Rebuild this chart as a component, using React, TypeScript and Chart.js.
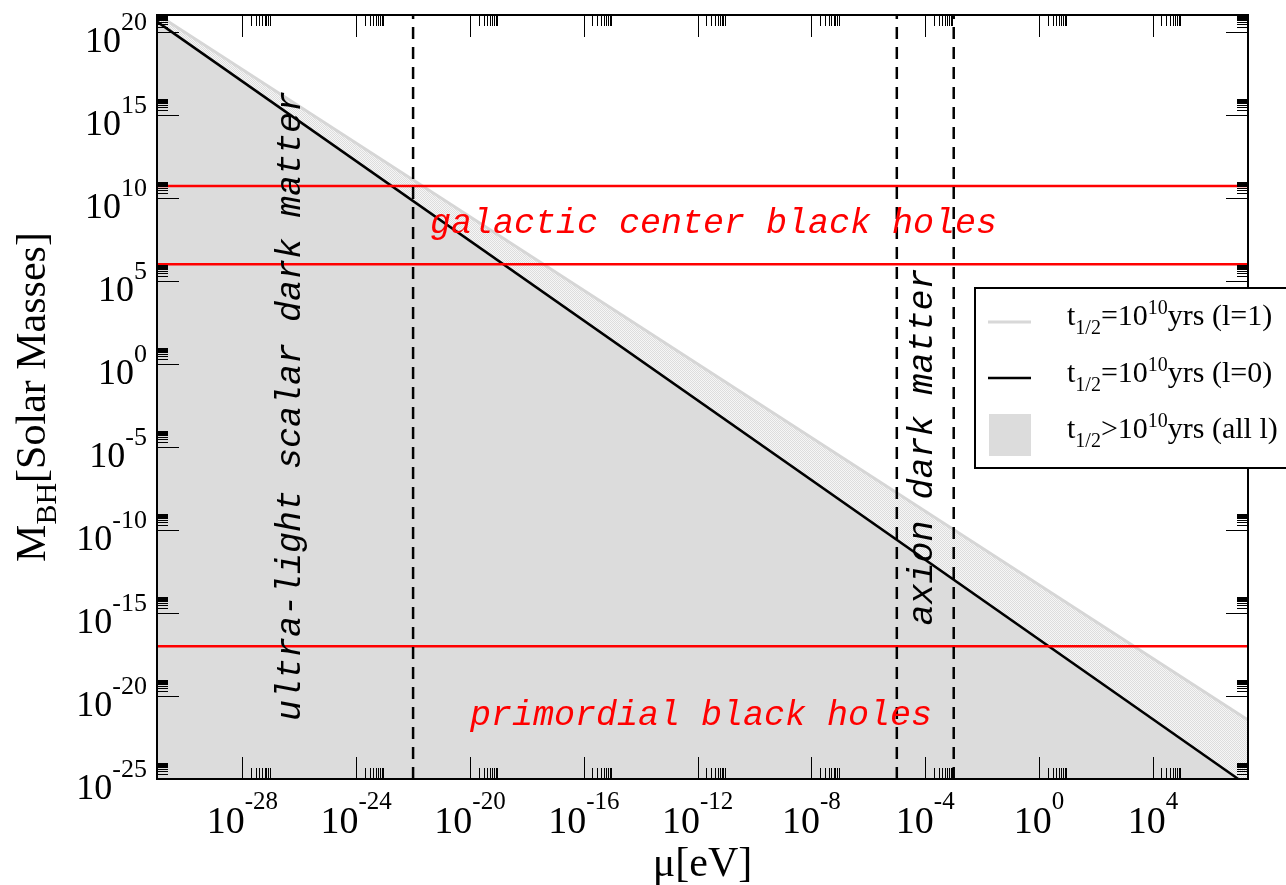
import React, { useEffect, useRef } from 'react';
import { Chart, registerables } from 'chart.js';

Chart.register(...registerables);

// ---- axis ranges ----
const X_MIN = 1e-31;
const X_MAX = 2.2e7;
const Y_MIN = 1e-25;
const Y_MAX = 1e21;

// ---- series ----
const l1Mu = [1e-31, 2.2e7];
const l1Mass = [1.1e21, 3.6e-22];
const l0Mu = [1e-31, 1e7];
const l0Mass = [4e20, 1e-25];
const redMassLevels = [5e10, 1e6, 1e-17];
const dashedMuLevels = [1e-22, 1e-5, 1e-3];

// ---- ticks ----
const xMajorExps = [-28, -24, -20, -16, -12, -8, -4, 0, 4];
const yMajorExps = [-25, -20, -15, -10, -5, 0, 5, 10, 15, 20];
const minorMultipliers = [2, 3, 4, 5, 6, 7, 8, 9];

// ---- texts ----
const legendEntries = [
  { rel: '=', tail: 'yrs (l=1)' },
  { rel: '=', tail: 'yrs (l=0)' },
  { rel: '>', tail: 'yrs (all l)' },
];
const annUltra = 'ultra-light scalar dark matter';
const annAxion = 'axion dark matter';
const annGalactic = 'galactic center black holes';
const annPrimordial = 'primordial black holes';

const SERIF = '"Liberation Serif", "Times New Roman", serif';
const MONO = '"Liberation Mono", "Courier New", monospace';

type Seg = { t: string; f: string; dy?: number };

function drawRich(ctx: CanvasRenderingContext2D, segs: Seg[], x: number, y: number, align: 'left' | 'center' | 'right') {
  let total = 0;
  for (const s of segs) {
    ctx.font = s.f;
    total += ctx.measureText(s.t).width;
  }
  let cur = align === 'center' ? x - total / 2 : align === 'right' ? x - total : x;
  ctx.textAlign = 'left';
  for (const s of segs) {
    ctx.font = s.f;
    ctx.fillText(s.t, cur, y + (s.dy || 0));
    cur += ctx.measureText(s.t).width;
  }
}

const decorPlugin = {
  id: 'decor',
  afterDatasetsDraw(chart: any) {
    const ctx: CanvasRenderingContext2D = chart.ctx;
    ctx.save();
    ctx.textBaseline = 'alphabetic';
    ctx.fillStyle = '#000';
    ctx.font = `italic 35px ${MONO}`;
    ctx.textAlign = 'center';
    ctx.save();
    ctx.translate(300, 406);
    ctx.rotate(-Math.PI / 2);
    ctx.fillText(annUltra, 0, 0);
    ctx.restore();
    ctx.save();
    ctx.translate(932, 447);
    ctx.rotate(-Math.PI / 2);
    ctx.fillText(annAxion, 0, 0);
    ctx.restore();
    ctx.fillStyle = '#ff0000';
    ctx.textAlign = 'left';
    ctx.fillText(annGalactic, 430, 233);
    ctx.fillText(annPrimordial, 470, 725);
    ctx.restore();
  },
  afterDraw(chart: any) {
    const ctx: CanvasRenderingContext2D = chart.ctx;
    const a = chart.chartArea;
    const xs = chart.scales.x;
    const ys = chart.scales.y;
    ctx.save();
    ctx.strokeStyle = '#000';
    ctx.fillStyle = '#000';
    ctx.lineWidth = 1;
    const MAJ = 22;
    const MIN = 11;
    ctx.beginPath();
    for (const e of xMajorExps) {
      const px = Math.round(xs.getPixelForValue(Math.pow(10, e))) + 0.5;
      ctx.moveTo(px, a.bottom); ctx.lineTo(px, a.bottom - MAJ);
      ctx.moveTo(px, a.top); ctx.lineTo(px, a.top + MAJ);
      for (const m of minorMultipliers) {
        const pm = Math.round(xs.getPixelForValue(m * Math.pow(10, e))) + 0.5;
        ctx.moveTo(pm, a.bottom); ctx.lineTo(pm, a.bottom - MIN);
        ctx.moveTo(pm, a.top); ctx.lineTo(pm, a.top + MIN);
      }
    }
    for (const e of yMajorExps) {
      const py = Math.round(ys.getPixelForValue(Math.pow(10, e))) + 0.5;
      ctx.moveTo(a.left, py); ctx.lineTo(a.left + MAJ, py);
      ctx.moveTo(a.right, py); ctx.lineTo(a.right - MAJ, py);
      for (const m of minorMultipliers) {
        const pm = Math.round(ys.getPixelForValue(m * Math.pow(10, e))) + 0.5;
        ctx.moveTo(a.left, pm); ctx.lineTo(a.left + MIN, pm);
        ctx.moveTo(a.right, pm); ctx.lineTo(a.right - MIN, pm);
      }
    }
    ctx.stroke();
    ctx.lineWidth = 2;
    ctx.strokeRect(a.left, a.top, a.right - a.left, a.bottom - a.top);

    ctx.textBaseline = 'alphabetic';
    for (const e of xMajorExps) {
      const px = xs.getPixelForValue(Math.pow(10, e));
      drawRich(ctx, [
        { t: '10', f: `38px ${SERIF}` },
        { t: String(e), f: `25px ${SERIF}`, dy: -24 },
      ], px, a.bottom + 54, 'center');
    }
    for (const e of yMajorExps) {
      const py = ys.getPixelForValue(Math.pow(10, e));
      drawRich(ctx, [
        { t: '10', f: `36px ${SERIF}` },
        { t: String(e), f: `26px ${SERIF}`, dy: -22 },
      ], 147, py + 20, 'right');
    }
    drawRich(ctx, [{ t: 'μ[eV]', f: `42px ${SERIF}` }], (a.left + a.right) / 2, 876, 'center');
    ctx.save();
    ctx.translate(45, (a.top + a.bottom) / 2);
    ctx.rotate(-Math.PI / 2);
    drawRich(ctx, [
      { t: 'M', f: `42px ${SERIF}` },
      { t: 'BH', f: `30px ${SERIF}`, dy: 11 },
      { t: '[Solar Masses]', f: `42px ${SERIF}` },
    ], 0, 0, 'center');
    ctx.restore();

    // legend
    const lx = 975, ly = 288, lw = 320, lh = 180;
    ctx.fillStyle = '#fff';
    ctx.fillRect(lx, ly, lw, lh);
    ctx.lineWidth = 2;
    ctx.strokeStyle = '#000';
    ctx.strokeRect(lx, ly, lw, lh);
    ctx.lineWidth = 3;
    ctx.strokeStyle = '#d8d8d8';
    ctx.beginPath(); ctx.moveTo(988, 322); ctx.lineTo(1031, 322); ctx.stroke();
    ctx.lineWidth = 2.5;
    ctx.strokeStyle = '#000';
    ctx.beginPath(); ctx.moveTo(988, 378); ctx.lineTo(1031, 378); ctx.stroke();
    ctx.fillStyle = '#dcdcdc';
    ctx.fillRect(989, 414, 42, 42);
    ctx.fillStyle = '#000';
    const baselines = [325, 382, 438];
    legendEntries.forEach((en, i) => {
      drawRich(ctx, [
        { t: 't', f: `30px ${SERIF}` },
        { t: '1/2', f: `20px ${SERIF}`, dy: 9 },
        { t: en.rel + '10', f: `30px ${SERIF}` },
        { t: '10', f: `20px ${SERIF}`, dy: -11 },
        { t: en.tail, f: `30px ${SERIF}` },
      ], 1067, baselines[i], 'left');
    });
    ctx.restore();
  },
};

export default function App() {
  const ref = useRef<HTMLCanvasElement | null>(null);
  useEffect(() => {
    const canvas = ref.current;
    if (!canvas) return;
    const pc = document.createElement('canvas');
    pc.width = 2; pc.height = 2;
    const pctx = pc.getContext('2d')!;
    pctx.fillStyle = '#f6f6f6';
    pctx.fillRect(0, 0, 2, 2);
    pctx.fillStyle = '#dddddd';
    pctx.fillRect(0, 0, 1, 1);
    pctx.fillRect(1, 1, 1, 1);
    const pattern = canvas.getContext('2d')!.createPattern(pc, 'repeat');

    const datasets: any[] = [
      {
        label: 't1/2=10^10yrs (l=1)',
        data: l1Mu.map((x, i) => ({ x, y: l1Mass[i] })),
        borderColor: '#d6d6d6', borderWidth: 3, fill: 'start', backgroundColor: pattern,
        pointRadius: 0, order: 10,
      },
      {
        label: 't1/2=10^10yrs (l=0)',
        data: l0Mu.map((x, i) => ({ x, y: l0Mass[i] })),
        borderColor: '#000', borderWidth: 2.5, fill: 'start', backgroundColor: '#dcdcdc',
        pointRadius: 0, order: 9,
      },
      ...redMassLevels.map((v) => ({
        label: 'red',
        data: [{ x: X_MIN, y: v }, { x: X_MAX, y: v }],
        borderColor: '#ff0000', borderWidth: 2.5, fill: false, pointRadius: 0, order: 5,
      })),
      ...dashedMuLevels.map((m) => ({
        label: 'dashed',
        data: [{ x: m, y: Y_MIN }, { x: m, y: Y_MAX }],
        borderColor: '#000', borderWidth: 2.5, borderDash: [12, 8], fill: false, pointRadius: 0, order: 4,
      })),
    ];

    const chart = new Chart(canvas, {
      type: 'line',
      data: { datasets },
      options: {
        animation: false,
        responsive: false,
        devicePixelRatio: 1,
        events: [],
        layout: { padding: { left: 157, top: 15, right: 38, bottom: 106 } },
        scales: {
          x: { type: 'logarithmic', min: X_MIN, max: X_MAX, display: false },
          y: { type: 'logarithmic', min: Y_MIN, max: Y_MAX, display: false },
        },
        plugins: { legend: { display: false }, tooltip: { enabled: false } },
      } as any,
      plugins: [decorPlugin],
    });
    return () => chart.destroy();
  }, []);
  return (
    <div style={{ position: 'fixed', left: 0, top: 0, width: 1286, height: 885, background: '#fff' }}>
      <canvas ref={ref} width={1286} height={885} />
    </div>
  );
}
